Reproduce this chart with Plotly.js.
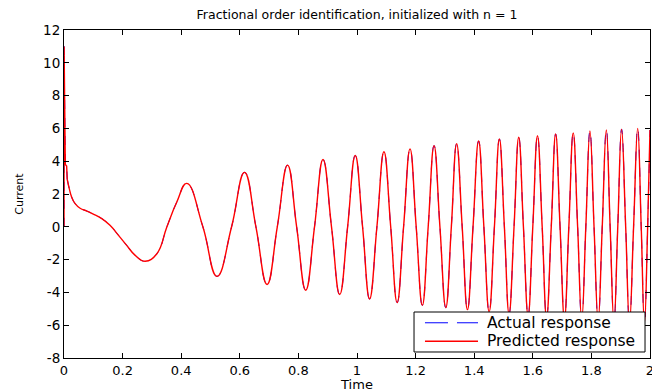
<!DOCTYPE html>
<html>
<head>
<meta charset="utf-8">
<script src="https://cdn.plot.ly/plotly-3.0.1.min.js"></script>
<style>
  html, body { margin: 0; padding: 0; background: #ffffff; }
  #chart { width: 652px; height: 392px; }
</style>
</head>
<body>
<div id="chart"></div>
<script>
// Time samples (s)
const timeValues = [
  0, 0.0003, 0.0035, 0.0045, 0.009, 0.011, 0.018, 0.026, 0.038, 0.055,
  0.078, 0.100, 0.129, 0.157, 0.186, 0.214, 0.243, 0.277, 0.317, 0.351,
  0.385, 0.419, 0.474, 0.522, 0.572, 0.616, 0.655, 0.693,
  0.728, 0.763, 0.794, 0.825, 0.855, 0.884, 0.913, 0.941, 0.968, 0.994,
  1.019, 1.043, 1.068, 1.092, 1.115, 1.137, 1.159, 1.181, 1.202, 1.223,
  1.243, 1.263, 1.283, 1.303, 1.322, 1.340, 1.359, 1.377, 1.396, 1.415,
  1.433, 1.451, 1.469, 1.486, 1.503, 1.519, 1.536, 1.552, 1.568, 1.584,
  1.600, 1.616, 1.632, 1.647, 1.663, 1.678, 1.693, 1.708, 1.723, 1.738,
  1.753, 1.767, 1.781, 1.795, 1.809, 1.823, 1.837, 1.851, 1.864, 1.877,
  1.890, 1.903, 1.917, 1.930, 1.944, 1.958, 1.970, 1.981, 1.992, 2.0
];

// Actual response (blue dashed)
const actualCurrent = [
  0, 11, 5.4, 3.8, 3.7, 2.9, 2.33, 1.82, 1.41, 1.13,
  0.96, 0.78, 0.50, 0.09, -0.52, -1.13, -1.74, -2.10, -1.64, -0.01,
  1.51, 2.65, 0, -3.02, 0, 3.32, 0, -3.52,
  0, 3.76, 0, -3.87, 0, 4.10, 0, -4.13, 0, 4.35,
  0, -4.40, 0, 4.58, 0, -4.62, 0, 4.75, 0, -4.79,
  0, 4.95, 0, -4.93, 0, 5.07, 0, -5.05, 0, 5.23,
  0, -5.18, 0, 5.35, 0, -5.30, 0, 5.46, 0, -5.40,
  0, 5.55, 0, -5.50, 0, 5.66, 0, -5.58, 0, 5.73,
  0, -5.66, 0, 5.84, 0, -5.73, 0, 5.90, 0, -5.80,
  0, 5.95, 0, -5.86, 0, 6.00, 0, -5.88, 0, 5.9
];

// Predicted response (red solid)
const predictedCurrent = [
  0, 11, 5.4, 3.8, 3.7, 2.9, 2.33, 1.82, 1.41, 1.13,
  0.96, 0.78, 0.50, 0.09, -0.52, -1.13, -1.74, -2.10, -1.64, -0.01,
  1.51, 2.65, 0, -3.02, 0, 3.32, 0, -3.52,
  0, 3.76, 0, -3.87, 0, 4.10, 0, -4.13, 0, 4.35,
  0, -4.40, 0, 4.58, 0, -4.62, 0, 4.75, 0, -4.79,
  0, 4.95, 0, -4.93, 0, 5.07, 0, -5.05, 0, 5.23,
  0, -5.18, 0, 5.35, 0, -5.30, 0, 5.46, 0, -5.40,
  0, 5.55, 0, -5.50, 0, 5.66, 0, -5.58, 0, 5.73,
  0, -5.66, 0, 5.84, 0, -5.73, 0, 5.90, 0, -5.80,
  0, 5.95, 0, -5.86, 0, 6.00, 0, -5.88, 0, 5.9
];

const seriesNames = ['Actual response', 'Predicted response'];
const xTickValues = [0, 0.2, 0.4, 0.6, 0.8, 1, 1.2, 1.4, 1.6, 1.8, 2];
const yTickValues = [-8, -6, -4, -2, 0, 2, 4, 6, 8, 10, 12];

const headEnd = 6; // initial sharp transient drawn with straight segments
const blue = '#0000ff', red = '#ff0000';

function seriesTraces(values, name, color, width, dash) {
  return [
    {
      x: timeValues.slice(0, headEnd), y: values.slice(0, headEnd),
      type: 'scatter', mode: 'lines', name: name, showlegend: false,
      line: { color: color, width: width, dash: dash, shape: 'linear' }
    },
    {
      x: timeValues.slice(headEnd - 1), y: values.slice(headEnd - 1),
      type: 'scatter', mode: 'lines', name: name, showlegend: false,
      line: { color: color, width: width, dash: dash, shape: 'spline', smoothing: 1.3 }
    }
  ];
}

const data = [].concat(
  seriesTraces(actualCurrent, seriesNames[0], blue, 1, 'dash'),
  seriesTraces(predictedCurrent, seriesNames[1], red, 1.4, 'solid')
);

const fontFamily = 'DejaVu Sans, Arial, sans-serif';

// Legend box drawn in paper coordinates (MATLAB-style legend)
const legendShapes = [
  { type: 'rect', xref: 'paper', yref: 'paper', x0: 0.5973, x1: 0.9915, y0: 0.0183, y1: 0.1402,
    fillcolor: '#ffffff', line: { color: '#000000', width: 1 }, layer: 'above' },
  { type: 'line', xref: 'paper', yref: 'paper', x0: 0.6160, x1: 0.7065, y0: 0.1074, y1: 0.1074,
    line: { color: blue, width: 1, dash: '23px,9px' }, layer: 'above' },
  { type: 'line', xref: 'paper', yref: 'paper', x0: 0.6160, x1: 0.7065, y0: 0.0509, y1: 0.0509,
    line: { color: red, width: 1.4 }, layer: 'above' }
];
const legendTexts = [
  { text: seriesNames[0], xref: 'paper', yref: 'paper', x: 0.7184, y: 0.1074,
    xanchor: 'left', yanchor: 'middle', showarrow: false,
    font: { family: fontFamily, size: 15.5, color: '#000000' } },
  { text: seriesNames[1], xref: 'paper', yref: 'paper', x: 0.7184, y: 0.0509,
    xanchor: 'left', yanchor: 'middle', showarrow: false,
    font: { family: fontFamily, size: 15.5, color: '#000000' } }
];

const layout = {
  width: 652, height: 392,
  margin: { l: 64, r: 2, t: 30, b: 34, pad: 0 },
  paper_bgcolor: '#ffffff', plot_bgcolor: '#ffffff',
  font: { family: fontFamily, size: 13, color: '#000000' },
  showlegend: false,
  title: {
    text: 'Fractional order identification, initialized with n = 1',
    font: { family: fontFamily, size: 12.5, color: '#000000' },
    x: 0.5, xref: 'paper', y: 0.962, yref: 'container', yanchor: 'middle'
  },
  xaxis: {
    range: [0, 2], tickvals: xTickValues, ticktext: xTickValues.map(String),
    ticks: 'inside', ticklen: 5, tickcolor: '#000000',
    showline: true, linecolor: '#000000', linewidth: 1, mirror: 'ticks',
    showgrid: false, zeroline: false, ticklabeloverflow: 'allow',
    tickfont: { family: fontFamily, size: 13, color: '#000000' },
    title: { text: 'Time', font: { family: fontFamily, size: 13, color: '#000000' }, standoff: 6 }
  },
  yaxis: {
    range: [-8, 12], tickvals: yTickValues, ticktext: yTickValues.map(String),
    ticks: 'inside', ticklen: 5, tickcolor: '#000000',
    showline: true, linecolor: '#000000', linewidth: 1, mirror: 'ticks',
    showgrid: false, zeroline: false, ticklabeloverflow: 'allow',
    tickfont: { family: fontFamily, size: 13.5, color: '#000000' },
    title: { text: 'Current', font: { family: fontFamily, size: 11, color: '#000000' }, standoff: 17 }
  },
  shapes: legendShapes,
  annotations: legendTexts
};

Plotly.newPlot('chart', data, layout, { staticPlot: true, displayModeBar: false });
</script>
</body>
</html>
